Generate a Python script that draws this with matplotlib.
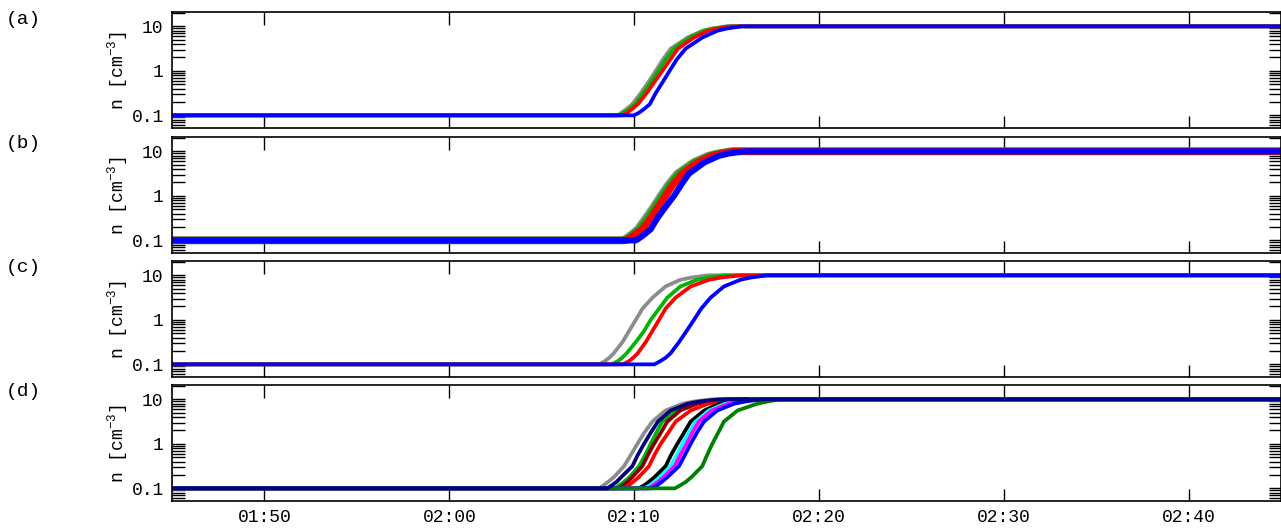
import datetime as dt
import matplotlib
matplotlib.use("Agg")
import matplotlib.pyplot as plt
import matplotlib.dates as mdates
from matplotlib.ticker import LogLocator, FixedLocator, FixedFormatter, NullFormatter

plt.rcParams["font.family"] = ["Liberation Mono", "DejaVu Sans Mono"]
plt.rcParams["mathtext.default"] = "regular"

# density levels (cm^-3) and the minutes after 02:00 at which each curve crosses them
n_levels = [0.1, 0.117, 0.14, 0.178, 0.316, 0.562, 1.0, 1.78, 3.16, 5.62, 7.94, 8.91, 10.0]

panel_a = {
    "gray":  [9.1, 9.35, 9.6, 9.9, 10.36, 10.78, 11.17, 11.55, 11.98, 12.9, 13.7, 14.2, 15.0],
    "green": [9.2, 9.45, 9.75, 10.05, 10.5, 10.92, 11.31, 11.7, 12.15, 13.0, 13.8, 14.3, 15.1],
    "red":   [9.4, 9.65, 9.9, 10.2, 10.68, 11.1, 11.53, 11.95, 12.37, 13.25, 14.0, 14.5, 15.3],
    "blue":  [10.0, 10.3, 10.55, 10.85, 11.17, 11.55, 11.92, 12.3, 12.79, 13.7, 14.5, 15.0, 15.8],
}
panel_b = {
    "gray":  [9.4, 9.65, 9.9, 10.2, 10.63, 11.05, 11.44, 11.85, 12.34, 13.2, 14.0, 14.5, 15.2],
    "green": [9.5, 9.75, 10.0, 10.3, 10.75, 11.15, 11.55, 11.95, 12.45, 13.3, 14.1, 14.6, 15.3],
    "red":   [9.6, 9.85, 10.1, 10.45, 10.9, 11.3, 11.7, 12.1, 12.6, 13.45, 14.2, 14.7, 15.4],
    "blue":  [10.1, 10.35, 10.6, 10.9, 11.26, 11.7, 12.16, 12.55, 12.97, 13.8, 14.6, 15.1, 15.9],
}
panel_c = {
    "gray":  [8.1, 8.4, 8.65, 8.9, 9.37, 9.73, 10.09, 10.45, 11.0, 11.7, 12.5, 13.1, 14.0],
    "green": [8.8, 9.1, 9.35, 9.6, 10.09, 10.54, 10.9, 11.35, 11.8, 12.5, 13.4, 14.0, 14.9],
    "red":   [9.4, 9.7, 9.95, 10.2, 10.63, 10.99, 11.35, 11.7, 12.25, 13.06, 14.05, 14.7, 15.75],
    "blue":  [11.1, 11.4, 11.7, 11.98, 12.43, 12.84, 13.24, 13.63, 14.14, 14.86, 15.75, 16.3, 17.2],
}
panel_d = {
    "gray":      [8.1, 8.35, 8.6, 8.9, 9.46, 9.82, 10.18, 10.55, 10.99, 11.7, 12.6, 13.2, 14.2],
    "green":     [8.95, 9.2, 9.45, 9.75, 10.27, 10.6, 10.9, 11.2, 11.53, 12.3, 13.2, 13.8, 14.9],
    "maroon":    [9.15, 9.4, 9.65, 9.9, 10.45, 10.75, 11.08, 11.45, 11.8, 12.5, 13.4, 14.0, 15.0],
    "red":       [9.45, 9.7, 9.95, 10.25, 10.81, 11.1, 11.44, 11.85, 12.25, 13.06, 14.0, 14.6, 15.6],
    "black":     [10.25, 10.55, 10.8, 11.1, 11.71, 12.0, 12.34, 12.7, 13.06, 13.8, 14.6, 15.2, 16.0],
    "cyan":      [10.55, 10.85, 11.1, 11.4, 11.98, 12.3, 12.61, 12.95, 13.33, 14.05, 14.9, 15.5, 16.3],
    "magenta":   [10.75, 11.05, 11.3, 11.6, 12.2, 12.5, 12.84, 13.15, 13.5, 14.2, 15.1, 15.7, 16.5],
    "blue":      [10.95, 11.25, 11.5, 11.8, 12.43, 12.75, 13.06, 13.4, 13.78, 14.5, 15.4, 16.0, 16.9],
    "darkgreen": [12.2, 12.5, 12.8, 13.1, 13.69, 13.95, 14.23, 14.55, 14.86, 15.6, 16.65, 17.2, 17.9],
    "navy":      [8.55, 8.8, 9.05, 9.3, 9.91, 10.2, 10.54, 10.9, 11.29, 11.98, 12.9, 13.5, 14.6],
}

colors = {
    "gray": "#8c8c8c", "green": "#00b400", "red": "#ff0000", "blue": "#0000ff",
    "navy": "#000080", "maroon": "#800000", "black": "#000000", "cyan": "#00ffff",
    "magenta": "#ff00ff", "darkgreen": "#008000",
}

# noisy panel (b): wider band for the earlier-drawn series so their colours show at the edges
noisy_width = {"gray": 5.6, "green": 5.4, "red": 5.2, "blue": 4.4}

t0 = dt.datetime(2000, 1, 1, 2, 0)
t_start = dt.datetime(2000, 1, 1, 1, 45)
t_end = dt.datetime(2000, 1, 1, 2, 45)


def curve(minutes):
    times = [t_start] + [t0 + dt.timedelta(minutes=m) for m in minutes] + [t_end]
    dens = [n_levels[0]] + n_levels + [n_levels[-1]]
    return times, dens


fig = plt.figure(figsize=(12.81, 5.29), dpi=100)
W, H = 1281, 529
left, right = 172, 1281
tops = [12, 137, 261, 385]
height = 116

panels = [("(a)", panel_a), ("(b)", panel_b), ("(c)", panel_c), ("(d)", panel_d)]

for i, (label, data) in enumerate(panels):
    top = tops[i]
    ax = fig.add_axes([left / W, 1 - (top + height) / H, (right - left) / W, height / H])
    for name, minutes in data.items():
        x, y = curve(minutes)
        lw = noisy_width[name] if label == "(b)" else 2.7
        ax.plot(x, y, color=colors[name], lw=lw, solid_capstyle="butt", solid_joinstyle="round")
    ax.set_yscale("log")
    ax.set_ylim(0.052, 21)
    ax.set_xlim(t_start, t_end)
    ax.yaxis.set_major_locator(FixedLocator([0.1, 1, 10]))
    ax.yaxis.set_major_formatter(FixedFormatter(["0.1", "1", "10"]))
    ax.yaxis.set_minor_locator(LogLocator(base=10, subs=range(2, 10)))
    ax.yaxis.set_minor_formatter(NullFormatter())
    ax.xaxis.set_major_locator(mdates.MinuteLocator(byminute=[0, 10, 20, 30, 40, 50]))
    ax.xaxis.set_major_formatter(mdates.DateFormatter("%H:%M"))
    ax.tick_params(which="both", direction="in", top=True, right=True, length=9, width=1,
                   labelsize=13, pad=6)
    if i < 3:
        ax.tick_params(labelbottom=False)
    for s in ax.spines.values():
        s.set_linewidth(1.2)
    ax.set_ylabel("n [cm$^{-3}$]", fontsize=13)
    ax.yaxis.set_label_coords(-42 / (right - left), 0.5)
    fig.text(6 / W, 1 - (top + 7) / H, label, fontsize=14, ha="left", va="center")

fig.savefig("out.png", dpi=100)
